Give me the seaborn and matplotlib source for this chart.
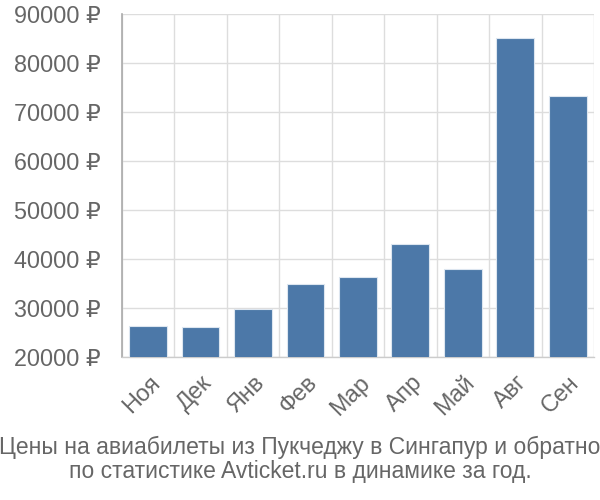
import matplotlib
matplotlib.use("Agg")
import matplotlib.pyplot as plt
import matplotlib.transforms as mtransforms
import seaborn as sns
import pandas as pd
import numpy as np
from matplotlib.ticker import FixedLocator

months = ["Ноя", "Дек", "Янв", "Фев", "Мар", "Апр", "Май", "Авг", "Сен"]
prices = [26300, 26200, 29800, 35000, 36300, 43000, 38000, 85100, 73300]
yticks = [20000, 30000, 40000, 50000, 60000, 70000, 80000, 90000]
title = "Цены на авиабилеты из Пукчеджу в Сингапур и обратно\nпо статистике Avticket.ru в динамике за год."

sns.set_theme(style="white")
plt.rcParams['font.family'] = ['Liberation Sans', 'DejaVu Sans']

df = pd.DataFrame({"month": months, "price": prices})

fig = plt.figure(figsize=(6, 5), dpi=100)
ax = fig.add_axes([0.203, 0.286, 0.787, 0.686])

sns.barplot(data=df, x="month", y="price", color="#4c78a8", saturation=1,
            width=0.72, edgecolor="#dde6f0", linewidth=0.8, ax=ax, zorder=3)

ax.set_ylim(20000, 90000)
ax.set_xlim(-0.5, len(months) - 0.5)
ax.set_yticks(yticks)
ax.set_yticklabels([f"{v} ₽" for v in yticks], fontsize=16.8, color="#666666")
ax.set_xticks(range(len(months)))
ax.set_xticklabels(months, rotation=45, ha="right", rotation_mode="anchor",
                   fontsize=16.8, color="#666666")
ax.xaxis.set_minor_locator(FixedLocator(np.arange(-0.5, len(months), 1.0)))

offset = mtransforms.ScaledTranslation(-0.06, 0.02, fig.dpi_scale_trans)
for lbl in ax.get_xticklabels():
    lbl.set_transform(lbl.get_transform() + offset)

ax.tick_params(axis="x", which="major", length=0, pad=10)
ax.tick_params(axis="x", which="minor", length=9, color="#cccccc", width=1)
ax.tick_params(axis="y", which="major", length=14.4, color="#dddddd", width=1, pad=1)

ax.grid(False)
ax.grid(axis="x", which="minor", color="#dddddd", linewidth=1, zorder=0)
ax.grid(axis="y", which="major", color="#dddddd", linewidth=1, zorder=0)
ax.set_axisbelow(True)

ax.set_xlabel("")
ax.set_ylabel("")
for s in ["top", "right"]:
    ax.spines[s].set_visible(False)
ax.spines["left"].set_color("#aaaaaa")
ax.spines["left"].set_linewidth(1.2)
ax.spines["bottom"].set_color("#cccccc")
ax.spines["bottom"].set_linewidth(1)

fig.text(0.5, 0.081, title, ha="center", va="center", fontsize=16.5,
         color="#666666", linespacing=1.1)

fig.savefig("out.png", dpi=100)
